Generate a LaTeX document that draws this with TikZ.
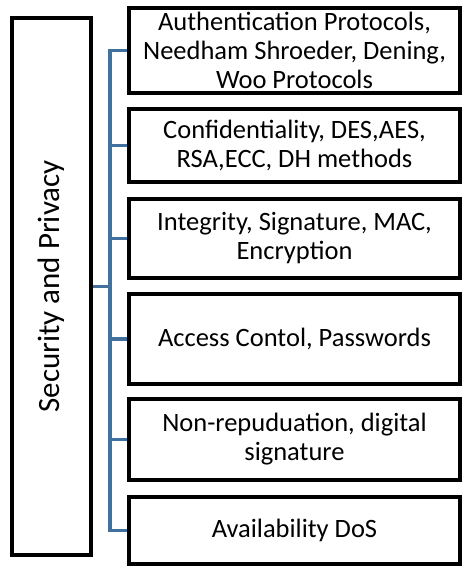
\documentclass[tikz,border=0pt]{standalone}
\usepackage{fontspec}
\setmainfont{Carlito}
\usetikzlibrary{positioning}
\definecolor{spblue}{HTML}{41719C}

\begin{document}
\begin{tikzpicture}[x=1pt,y=-1pt,
  item/.style={draw=black,line width=4pt,fill=white,minimum width=331pt,inner sep=0pt,
    align=center,font=\fontsize{26.5}{29}\selectfont},
  link/.style={spblue,line width=3.5pt}]
  \useasboundingbox (0,0) rectangle (467,567);
  % root box, text turned upright
  \node[draw=black,line width=4pt,rotate=90,minimum width=537pt,minimum height=79pt,
    font=\fontsize{31}{36}\selectfont] (sec) at (51.5,286.5) {Security and Privacy};
  % the six topics
  \node[item,minimum height=85pt] (auth) at (294.5,50.5) {Authentication Protocols,\\Needham Shroeder, Dening,\\Woo Protocols};
  \node[item,minimum height=73pt] (conf) at (294.5,145.5) {Confidentiality, DES,AES,\\RSA,ECC, DH methods};
  \node[item,minimum height=79pt] (integ) at (294.5,238.5) {Integrity, Signature, MAC,\\Encryption};
  \node[item,minimum height=90pt] (acc) at (294.5,339) {Access Contol, Passwords};
  \node[item,minimum height=81pt] (nonrep) at (294.5,439.5) {Non-repuduation, digital\\signature};
  \node[item,minimum height=67pt] (avail) at (294.5,530.5) {Availability DoS};
  % connectors
  \draw[link] (sec.south) -- ++(18,0);
  \draw[link] (auth.west) -- ++(-17,0) |- (avail.west);
  \foreach \t in {conf,integ,acc,nonrep}
    \draw[link] (\t.west) -- ++(-17,0);
\end{tikzpicture}
\end{document}
